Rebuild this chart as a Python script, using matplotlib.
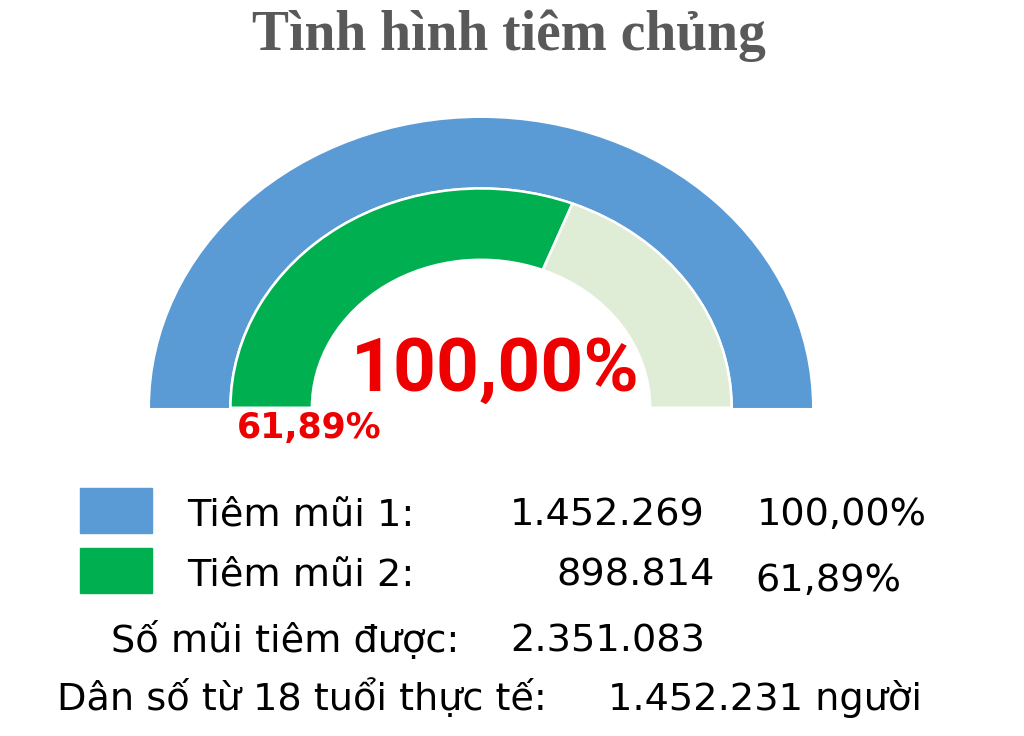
import matplotlib
matplotlib.use("Agg")
import matplotlib.pyplot as plt
from matplotlib.patches import Rectangle

# data
title = "Tình hình tiêm chủng"
dose_labels = ["Tiêm mũi 1:", "Tiêm mũi 2:"]
dose_counts = [1452269, 898814]
dose_pct = [100.00, 61.89]
total_label = "Số mũi tiêm được:"
total_shots = 2351083
pop_label = "Dân số từ 18 tuổi thực tế:"
pop_adult = 1452231
pop_unit = "người"

c_blue = "#5b9bd5"
c_green = "#00b050"
c_rest = "#dfecd6"
c_red = "#ee0000"


def fmt_int(n):
    return f"{n:,}".replace(",", ".")


def fmt_pct(p):
    return f"{p:.2f}".replace(".", ",") + "%"


W, H = 1024, 736
fig = plt.figure(figsize=(W / 100, H / 100), dpi=100)
fig.patch.set_facecolor("white")


def fx(px):
    return px / W


def fy(py):
    return 1 - py / H


# half-donut gauge
ax = fig.add_axes([0.1142, 0.4063, 0.7111, 0.4531])
# outer ring: dose 1 share of the upper half
ax.pie([dose_pct[0], 100 - dose_pct[0], 100], radius=1.0, startangle=180,
       counterclock=False, colors=[c_blue, c_blue, "none"],
       wedgeprops=dict(width=0.239, linewidth=0))
# inner ring: dose 2 share
ax.pie([dose_pct[1], 100 - dose_pct[1], 100], radius=0.757, startangle=180,
       counterclock=False, colors=[c_green, c_rest, "none"],
       wedgeprops=dict(width=0.246, edgecolor="white", linewidth=1.8))
ax.set_aspect("auto")
ax.set_xlim(-1.1, 1.1)
ax.set_ylim(-0.1, 1.05)
ax.axis("off")

fig.text(fx(509), fy(50), title, ha="center", va="baseline", fontsize=40,
         fontweight="bold", family="Liberation Serif", color="#595959")

fig.text(fx(495), fy(391), fmt_pct(dose_pct[0]), ha="center", va="baseline",
         fontsize=54, fontweight="bold", family="Roboto", color=c_red)
fig.text(fx(309), fy(438), fmt_pct(dose_pct[1]), ha="center", va="baseline",
         fontsize=25, fontweight="bold", family="DejaVu Sans", color=c_red)

# legend rows
box_colors = [c_blue, c_green]
box_top = [488, 548]
row_base = [526, 585]
label_x = [187, 187]
count_right = [705, 715]
pct_x = [757, 755]
pct_base = [525, 591]
fs = 27.5
for i in range(2):
    fig.add_artist(Rectangle((fx(80), fy(box_top[i] + 45)), 72 / W, 45 / H,
                             transform=fig.transFigure, color=box_colors[i]))
    fig.text(fx(label_x[i]), fy(row_base[i]), dose_labels[i], ha="left",
             va="baseline", fontsize=fs, color="black")
    fig.text(fx(count_right[i]), fy(row_base[i]), fmt_int(dose_counts[i]),
             ha="right", va="baseline", fontsize=fs, color="black")
    fig.text(fx(pct_x[i]), fy(pct_base[i]), fmt_pct(dose_pct[i]), ha="left",
             va="baseline", fontsize=fs, color="black")

fig.text(fx(111), fy(652), total_label, ha="left", va="baseline", fontsize=fs)
fig.text(fx(510), fy(652), fmt_int(total_shots), ha="left", va="baseline",
         fontsize=fs)
fig.text(fx(57), fy(710), pop_label, ha="left", va="baseline", fontsize=fs)
fig.text(fx(608), fy(710), fmt_int(pop_adult) + " " + pop_unit, ha="left",
         va="baseline", fontsize=fs)

fig.savefig("out.png", dpi=100)
